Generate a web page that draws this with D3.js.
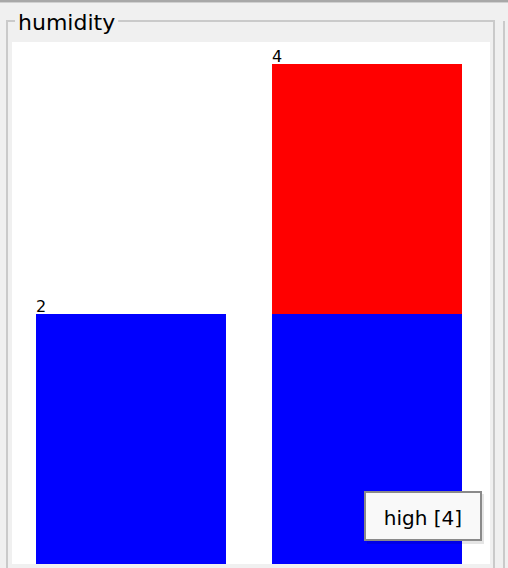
<!DOCTYPE html>
<html><head><meta charset="utf-8">
<script src="https://cdn.jsdelivr.net/npm/d3@7"></script>
<style>html,body{margin:0;padding:0;background:#f0f0f0;overflow:hidden}</style>
</head><body>
<svg id="c" width="508" height="568"></svg>
<script>
const title = "humidity";
const categories = ["normal", "high"];
const classNames = ["yes", "no"];
const classColors = ["#0000ff", "#ff0000"];
const blueValues = [2, 2];
const redValues = [0, 2];
const tooltipText = "high [4]";

const FONT = "DejaVu Sans, Verdana, sans-serif";
const svg = d3.select("#c");
// window frame top line
svg.append("rect").attr("x",0).attr("y",0).attr("width",508).attr("height",2).attr("fill","#a8a8a8");
svg.append("rect").attr("x",0).attr("y",2).attr("width",508).attr("height",1).attr("fill","#d0d0d0");
// group box
svg.append("rect").attr("x",7).attr("y",21).attr("width",487).attr("height",560)
  .attr("fill","none").attr("stroke","#cacaca").attr("stroke-width",2);
svg.append("line").attr("x1",504).attr("x2",504).attr("y1",21).attr("y2",568).attr("stroke","#cacaca").attr("stroke-width",2);
// plot area
svg.append("rect").attr("x",12).attr("y",42).attr("width",478).attr("height",522).attr("fill","#ffffff");
// title with background gap
const t = svg.append("text").attr("x",18).attr("y",30).text(title)
  .attr("font-family",FONT).attr("font-size",22).attr("fill","#000");
const bb = t.node().getBBox();
svg.insert("rect", "text").attr("x",bb.x-3).attr("y",14).attr("width",bb.width+6).attr("height",14).attr("fill","#f0f0f0");

const totals = categories.map((c,i)=>blueValues[i]+redValues[i]);
const x = d3.scaleBand().domain(categories).range([36,462]).paddingInner(0.195).paddingOuter(0);
const y = d3.scaleLinear().domain([0, d3.max(totals)]).range([564, 64]);

const stackData = categories.map((c,i)=>({cat:c, yes:blueValues[i], no:redValues[i]}));
const stack = d3.stack().keys(classNames)(stackData);
const g = svg.append("g");
stack.forEach((layer,li)=>{
  g.selectAll(null).data(layer).join("rect")
    .attr("x", d=>x(d.data.cat))
    .attr("width", x.bandwidth())
    .attr("y", d=>y(d[1]))
    .attr("height", d=>y(d[0])-y(d[1]))
    .attr("fill", classColors[li]);
});
g.selectAll(null).data(categories).join("text")
  .attr("x", d=>x(d))
  .attr("y", (d,i)=>y(totals[i])-2)
  .text((d,i)=>totals[i])
  .attr("font-family",FONT).attr("font-size",16).attr("fill","#000");

// tooltip
const tg = svg.append("g");
tg.append("rect").attr("x",367).attr("y",494).attr("width",117).attr("height",50).attr("fill","rgba(0,0,0,0.10)");
tg.append("rect").attr("x",365).attr("y",492).attr("width",116).attr("height",48)
  .attr("fill","#f9f9f9").attr("stroke","#8a8a8a").attr("stroke-width",2);
tg.append("text").attr("x",423).attr("y",525).attr("text-anchor","middle").text(tooltipText)
  .attr("font-family",FONT).attr("font-size",20).attr("fill","#000");
</script>
</body></html>
